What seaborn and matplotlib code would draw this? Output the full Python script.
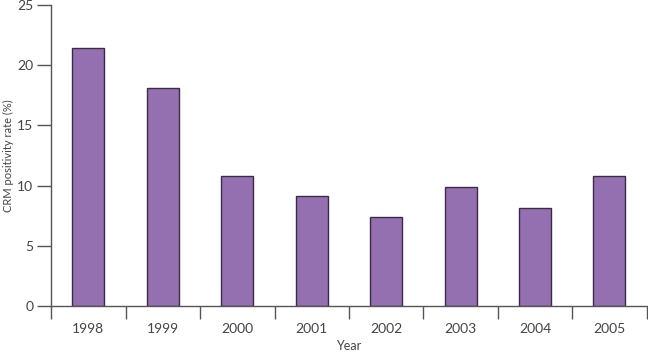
import numpy as np
import pandas as pd
import matplotlib
matplotlib.use("Agg")
import matplotlib.pyplot as plt
import seaborn as sns

# values
years = ["1998", "1999", "2000", "2001", "2002", "2003", "2004", "2005"]
crm_rate = [21.4, 18.1, 10.8, 9.1, 7.4, 9.9, 8.1, 10.8]

df = pd.DataFrame({"Year": years, "Rate": crm_rate})

sns.set_style("ticks")
plt.rcParams["font.family"] = ["Lato", "DejaVu Sans"]

fig = plt.figure(figsize=(6.48, 3.53), dpi=100)
ax = fig.add_axes([0.079, 0.133, 0.919, 0.853])

sns.barplot(data=df, x="Year", y="Rate", color="#9470b0", saturation=1,
            width=0.43, edgecolor="#3b2a48", linewidth=1.0, ax=ax)

ax.set_xlim(-0.5, len(years) - 0.5)
ax.set_ylim(0, 25)
ax.set_yticks([0, 5, 10, 15, 20, 25])

# ticks between the bars, labels under the bars
ax.set_xticks(np.arange(-0.5, len(years) + 0.5, 1), minor=True)
ax.tick_params(axis="x", which="major", length=0, pad=12, labelsize=10, labelcolor="#444444")
ax.tick_params(axis="x", which="minor", length=9, width=1, color="#555555", direction="out")
ax.tick_params(axis="y", length=10, width=1, color="#555555", labelsize=10,
               labelcolor="#444444", pad=3)

ax.set_xlabel("Year", fontsize=9, color="#444444", labelpad=4)
ax.set_ylabel("CRM positivity rate (%)", fontsize=8, color="#444444", labelpad=2)

sns.despine(ax=ax)
for s in ["left", "bottom"]:
    ax.spines[s].set_color("#555555")
    ax.spines[s].set_linewidth(1)

fig.savefig("out.png", dpi=100)
